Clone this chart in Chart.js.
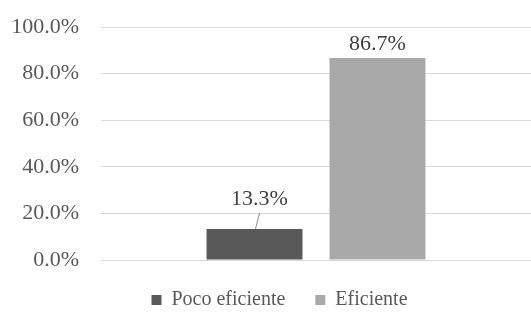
<!DOCTYPE html>
<html>
<head>
<meta charset="utf-8">
<script src="https://cdn.jsdelivr.net/npm/chart.js@4/dist/chart.umd.min.js"></script>
<style>
html,body{margin:0;padding:0;background:#fff;overflow:hidden;}
#wrap{width:531px;height:314px;position:relative;}
</style>
</head>
<body>
<div id="wrap"><canvas id="c" width="531" height="314"></canvas></div>
<script>
const categories = [''];
const seriesNames = ['Poco eficiente', 'Eficiente'];
const pocoEficiente = [13.3];
const eficiente = [86.7];
const yTicks = [0, 20, 40, 60, 80, 100];

const FONT = '"Liberation Serif", "Times New Roman", serif';

const labelPlugin = {
  id: 'valueLabels',
  afterDatasetsDraw(chart) {
    const ctx = chart.ctx;
    ctx.save();
    ctx.font = '22px ' + FONT;
    ctx.fillStyle = '#404040';
    ctx.textAlign = 'center';
    ctx.textBaseline = 'bottom';
    chart.data.datasets.forEach((ds, di) => {
      const meta = chart.getDatasetMeta(di);
      meta.data.forEach((bar, i) => {
        const v = ds.data[i];
        const txt = v.toFixed(1) + '%';
        if (di === 0) {
          ctx.fillText(txt, bar.x + 5, bar.y - 19);
          ctx.strokeStyle = '#8c8c8c';
          ctx.lineWidth = 1;
          ctx.beginPath();
          ctx.moveTo(bar.x + 5, bar.y - 16);
          ctx.lineTo(bar.x + 1, bar.y);
          ctx.stroke();
        } else {
          ctx.fillText(txt, bar.x, bar.y - 3);
        }
      });
    });
    ctx.restore();
  }
};

const legendShift = {
  id: 'legendShift',
  afterLayout(chart) {
    const l = chart.legend;
    if (l) { l.left += 10; l.right += 10; }
  }
};

new Chart(document.getElementById('c'), {
  type: 'bar',
  data: {
    labels: categories,
    datasets: [
      { label: seriesNames[0], data: pocoEficiente, backgroundColor: '#595959', borderWidth: 0 },
      { label: seriesNames[1], data: eficiente, backgroundColor: '#a9a9a9', borderWidth: 0 }
    ]
  },
  options: {
    responsive: false,
    animation: false,
    layout: { padding: { top: 27, right: 0, left: 8, bottom: -6 } },
    categoryPercentage: 0.572,
    barPercentage: 0.78,
    plugins: {
      tooltip: { enabled: false },
      legend: {
        position: 'bottom',
        labels: {
          font: { family: FONT, size: 20 },
          color: '#595959',
          boxWidth: 10,
          boxHeight: 10,
          padding: 30
        }
      }
    },
    scales: {
      x: { display: false },
      y: {
        min: 0, max: 100,
        afterBuildTicks(axis) { axis.ticks = yTicks.map(v => ({ value: v })); },
        afterFit(axis) { axis.width = 93; axis.paddingTop = 0; axis.paddingBottom = 0; },
        ticks: {
          font: { family: FONT, size: 22 },
          color: '#595959',
          padding: 22,
          callback: v => v.toFixed(1) + '%'
        },
        grid: { color: '#d9d9d9', lineWidth: 1, drawTicks: false },
        border: { display: false }
      }
    }
  },
  plugins: [labelPlugin, legendShift]
});
</script>
</body>
</html>
